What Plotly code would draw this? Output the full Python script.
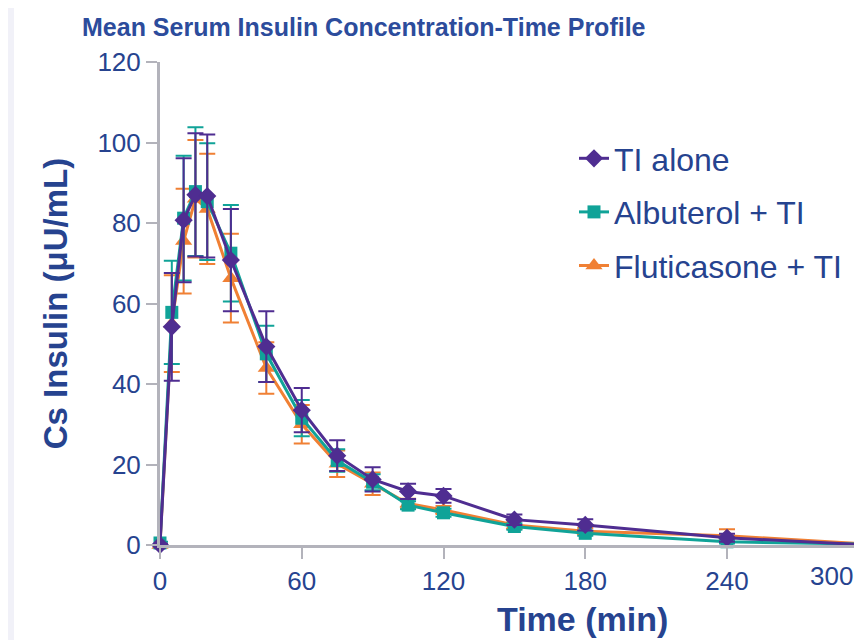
import plotly.graph_objects as go

# ---- data ----
time_min = [0, 5, 10, 15, 20, 30, 45, 60, 75, 90, 105, 120, 150, 180, 240, 300]

ti_alone = [0, 54.2, 80.7, 87.0, 86.7, 70.8, 49.3, 33.5, 22.2, 16.3, 13.3, 12.2, 6.3, 5.0, 1.8, 0.0]
ti_alone_sd = [0.3, 13.4, 15.4, 15.3, 15.3, 12.7, 8.8, 5.5, 3.8, 3.0, 1.9, 1.7, 1.3, 1.4, 1.0, 0.3]

albuterol_ti = [0.5, 57.8, 81.2, 87.8, 85.3, 72.5, 47.5, 31.5, 21.0, 15.6, 9.9, 8.0, 4.6, 2.9, 0.8, 0.2]
albuterol_ti_sd = [0.3, 12.8, 15.5, 16.0, 14.5, 12.0, 7.0, 4.5, 2.8, 2.0, 1.0, 1.0, 0.8, 0.6, 0.4, 0.2]

fluticasone_ti = [0.0, 55.0, 75.5, 86.0, 83.5, 66.3, 44.0, 30.0, 20.2, 15.2, 10.3, 8.7, 5.0, 3.4, 2.3, 0.2]
fluticasone_ti_sd = [0.2, 12.0, 13.0, 14.6, 13.7, 11.0, 6.4, 4.8, 3.3, 2.8, 1.2, 1.0, 1.0, 0.8, 1.6, 0.2]

x_ticks = [0, 60, 120, 180, 240]
last_tick = 300
y_ticks = [0, 20, 40, 60, 80, 100, 120]

title_text = "Mean Serum Insulin Concentration-Time Profile"
x_title = "Time (min)"
y_title = "Cs Insulin (μU/mL)"

# ---- style ----
PURPLE = "#4f2d91"
TEAL = "#10a398"
ORANGE = "#f08034"
TEXT = "#26438f"
AXIS = "#b3b3bb"
FONT = "Liberation Sans, Arial, sans-serif"

PAGE_OFF = 8          # the page body margin that offsets the figure
W, H = 862 - PAGE_OFF, 640 - PAGE_OFF
ML, MT = 160 - PAGE_OFF, 62 - PAGE_OFF
PLOT_BOTTOM = 545 - PAGE_OFF
PW = W - ML
PH = PLOT_BOTTOM - MT
MB = H - PLOT_BOTTOM
X_PER_MIN = 2.3625
x_max = PW / X_PER_MIN

series = [
    ("Fluticasone + TI", fluticasone_ti, fluticasone_ti_sd, ORANGE, "triangle-up", 15, 3),
    ("Albuterol + TI", albuterol_ti, albuterol_ti_sd, TEAL, "square", 13, 2),
    ("TI alone", ti_alone, ti_alone_sd, PURPLE, "diamond", 14, 1),
]

fig = go.Figure()
for name, vals, sd, col, sym, msize, rank in series:
    fig.add_trace(go.Scatter(
        x=time_min, y=vals, name=name, mode="lines+markers",
        line=dict(color=col, width=3),
        marker=dict(symbol=sym, size=msize, color=col, line=dict(width=0)),
        error_y=dict(type="data", array=sd, visible=True, color=col, thickness=2, width=8),
        cliponaxis=False, legendrank=rank, legendgroup=name,
    ))

def px_to_paper_x(px):  # px: page pixel
    return (px - PAGE_OFF - ML) / PW

def px_to_paper_y(py):
    return 1 - (py - PAGE_OFF - MT) / PH

fig.update_layout(
    width=W, height=H,
    margin=dict(l=ML, r=0, t=MT, b=MB, autoexpand=False),
    paper_bgcolor="white", plot_bgcolor="white",
    font=dict(family=FONT, color=TEXT),
    showlegend=True,
    legend=dict(
        x=px_to_paper_x(574), y=px_to_paper_y(131), xanchor="left", yanchor="top",
        font=dict(size=32, color=TEXT, family=FONT),
        bgcolor="rgba(0,0,0,0)", tracegroupgap=9, itemwidth=30,
    ),
    xaxis=dict(
        range=[0, x_max], tickvals=x_ticks, showgrid=False, zeroline=False,
        showline=True, linecolor=AXIS, linewidth=3,
        ticks="outside", ticklen=11, tickwidth=2, tickcolor=AXIS,
        tickfont=dict(size=26, color=TEXT, family=FONT),
    ),
    yaxis=dict(
        range=[0, 120], tickvals=y_ticks, showgrid=False, zeroline=False,
        showline=True, linecolor=AXIS, linewidth=3,
        ticks="outside", ticklen=11, tickwidth=2, tickcolor=AXIS,
        tickfont=dict(size=26, color=TEXT, family=FONT),
        title=dict(text="<b>" + y_title + "</b>", font=dict(size=33, color=TEXT, family=FONT), standoff=20),
    ),
    shapes=[dict(
        type="rect", xref="paper", yref="paper",
        x0=px_to_paper_x(PAGE_OFF), x1=px_to_paper_x(14), y0=px_to_paper_y(640), y1=px_to_paper_y(PAGE_OFF),
        fillcolor="#f1f1f8", line=dict(width=0), layer="below",
    )],
    annotations=[
        dict(text="<b>" + title_text + "</b>", xref="paper", yref="paper",
             x=px_to_paper_x(80), y=px_to_paper_y(11), xanchor="left", yanchor="top",
             showarrow=False, font=dict(size=25, color="#2c4c9c", family=FONT)),
        dict(text="<b>" + x_title + "</b>", xref="paper", yref="paper",
             x=px_to_paper_x(582), y=px_to_paper_y(619), xanchor="center", yanchor="middle",
             showarrow=False, font=dict(size=34, color=TEXT, family=FONT)),
        # last tick label sits at the right edge of the (cropped) axis
        dict(text=str(last_tick), xref="paper", yref="paper",
             x=1, y=0, xanchor="right", yanchor="top", xshift=-7,
             yshift=-14, showarrow=False, font=dict(size=26, color=TEXT, family=FONT)),
    ],
)

fig.write_html("out.html")
